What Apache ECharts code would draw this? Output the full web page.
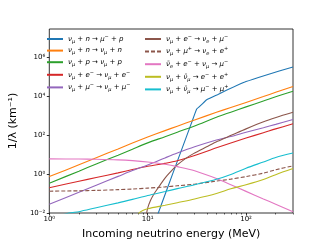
<!DOCTYPE html>
<html><head><meta charset="utf-8">
<script src="https://cdn.jsdelivr.net/npm/echarts@6/dist/echarts.min.js"></script>
<style>html,body{margin:0;padding:0;background:#fff}#c{width:327px;height:245px}</style>
</head><body><div id="c"></div>
<script>
// ---- data (energy in MeV, inverse mean free path in km^-1) ----
const energyGrid = [1, 2, 3, 5, 7, 10, 15, 20, 30, 50, 70, 100, 150, 200, 300];
const nnVals   = [0.74, 3.0, 6.9, 19.5, 39, 79, 170, 288, 600, 1480, 2630, 4790, 9550, 15800, 31600];
const npVals   = [0.34, 1.41, 3.3, 9.3, 19, 40, 83, 141, 295, 832, 1510, 2820, 5620, 9330, 17800];
const neVals   = [0.2, 0.427, 0.66, 1.15, 1.7, 2.51, 3.55, 4.79, 8.9, 22.4, 39.8, 70.8, 132, 209, 380];
const nmuVals  = [0.0282, 0.117, 0.269, 0.76, 1.51, 2.95, 6.76, 12, 25.1, 56.2, 85, 141, 240, 355, 631];
const annVals  = [6.03, 5.89, 5.75, 5.37, 4.9, 4.17, 3.16, 2.4, 1.48, 0.589, 0.282, 0.129, 0.0525, 0.0282, 0.0115];
const mupVals  = [0.132, 0.138, 0.145, 0.158, 0.17, 0.19, 0.219, 0.251, 0.302, 0.437, 0.55, 0.741, 1.12, 1.66, 2.63];

const ccEnergy = [12.6, 15.85, 19.95, 25.1, 28.2, 31.4, 35.5, 39.8, 51.2, 63.1, 100, 158, 300];
const ccVals   = [0.0079, 0.186, 4.37, 100, 490, 2140, 3800, 6600, 12000, 20000, 56200, 120000, 316000];

const imdEnergy = [9.55, 10, 10.7, 11.5, 12.6, 14.3, 15.8, 17.8, 20, 24, 29.2, 39.8, 51.2, 71.6, 100, 158, 224, 300];
const imdVals   = [0.005, 0.0178, 0.0447, 0.089, 0.178, 0.447, 0.85, 1.66, 2.95, 6.03, 11.2, 25.1, 47.9, 100, 209, 525, 955, 1480];

const eeEnergy = [7.59, 8.15, 8.91, 10, 15, 20, 30, 50, 70, 100, 150, 200, 300];
const eeVals   = [0.005, 0.01, 0.0135, 0.0166, 0.0251, 0.0339, 0.0525, 0.1, 0.174, 0.282, 0.525, 0.933, 1.91];

const mmEnergy = [1, 1.585, 2, 3, 5, 7, 10, 15, 20, 30, 50, 70, 100, 150, 200, 300];
const mmVals   = [0.005, 0.01, 0.0117, 0.0186, 0.0331, 0.05, 0.0794, 0.126, 0.178, 0.282, 0.537, 0.955, 2.0, 4.17, 7.08, 12.0];

const seriesNames = [
  'ν_μ + n → μ^- + p',
  'ν_μ + n → ν_μ + n',
  'ν_μ + p → ν_μ + p',
  'ν_μ + e^- → ν_μ + e^-',
  'ν_μ + μ^- → ν_μ + μ^-',
  'ν_μ + e^- → ν_e + μ^-',
  'ν_μ + μ^+ → ν_e + e^+',
  'ν\u0304_e + e^- + ν_μ → μ^-',
  'ν_μ + ν\u0304_μ → e^- + e^+',
  'ν_μ + ν\u0304_μ → μ^- + μ^+'
];
const xTickValues = [1, 10, 100];
const xMinorValues = [2,3,4,5,6,7,8,9,20,30,40,50,60,70,80,90,200,300];
const yTickValues = [0.01, 1, 100, 10000, 1000000];

const colors = ['#1f77b4','#ff7f0e','#2ca02c','#d62728','#9467bd','#8c564b','#8c564b','#e377c2','#bcbd22','#17becf'];
const xs = [ccEnergy, energyGrid, energyGrid, energyGrid, energyGrid, imdEnergy, energyGrid, energyGrid, eeEnergy, mmEnergy];
const ys = [ccVals, nnVals, npVals, neVals, nmuVals, imdVals, mupVals, annVals, eeVals, mmVals];

const FONT = 'DejaVu Sans';
const legRich = {
  n: {fontFamily: FONT, fontSize: 7, lineHeight: 10, color: '#000'},
  i: {fontFamily: FONT, fontSize: 7, fontStyle: 'italic', lineHeight: 10, color: '#000'},
  s: {fontFamily: FONT, fontSize: 5, fontStyle: 'italic', lineHeight: 5, verticalAlign: 'bottom', color: '#000'},
  p: {fontFamily: FONT, fontSize: 5, lineHeight: 5, verticalAlign: 'top', color: '#000'}
};
function toRich(label) {
  let out = '', buf = '';
  const flush = () => { if (buf) { out += '{n|' + buf + '}'; buf = ''; } };
  for (let k = 0; k < label.length; k++) {
    const ch = label[k];
    if (ch === '_') { flush(); out += '{s|' + label[++k] + '}'; }
    else if (ch === '^') { flush(); let c = label[++k]; if (c === '-') c = '\u2212'; out += '{p|' + c + '}'; }
    else if (/[A-Za-z\u03b1-\u03c9]/.test(ch)) {
      flush(); let t = ch; if (label[k + 1] === '\u0304') t += label[++k];
      out += '{i|' + t + '}';
    } else buf += ch;
  }
  flush();
  return out;
}
const SUP = {'0':'\u2070','1':'\u00b9','2':'\u00b2','3':'\u00b3','4':'\u2074','5':'\u2075','6':'\u2076','7':'\u2077','8':'\u2078','9':'\u2079','-':'\u207b'};
function powLabel(v) {
  const e = Math.round(Math.log10(v));
  return '10' + String(e).split('').map(c => SUP[c]).join('');
}

const series = seriesNames.map((name, k) => ({
  type: 'line', name: name,
  data: xs[k].map((x, j) => [x, ys[k][j]]),
  xAxisIndex: 0, yAxisIndex: 0,
  symbol: 'none', showSymbol: false, silent: true, animation: false,
  smooth: k === 0 ? 0.08 : 0.3,
  clip: true,
  lineStyle: {color: colors[k], width: 1.1, type: k === 6 ? [4, 2] : 'solid'},
  itemStyle: {color: colors[k]}
}));

const legendCommon = {
  orient: 'vertical', itemWidth: 16, itemHeight: 10, itemGap: 2.6,
  formatter: n => toRich(n),
  itemStyle: {opacity: 0, borderWidth: 0},
  textStyle: {rich: legRich, fontFamily: FONT, fontSize: 7},
  padding: 0, selectedMode: false
};

const chart = echarts.init(document.getElementById('c'), null, {renderer: 'canvas'});
chart.setOption({
  animation: false,
  backgroundColor: '#fff',
  grid: {left: 40, top: 29, width: 253, height: 189, show: true, borderColor: '#000', borderWidth: 0.8, backgroundColor: 'transparent'},
  legend: [
    Object.assign({left: 46, top: 34, data: seriesNames.slice(0, 5)}, legendCommon),
    Object.assign({left: 144, top: 34, data: seriesNames.slice(5)}, legendCommon)
  ],
  xAxis: [{
    type: 'log', logBase: 10, min: 1, max: 300,
    name: 'Incoming neutrino energy (MeV)', nameLocation: 'middle', nameGap: 16,
    nameTextStyle: {fontFamily: FONT, fontSize: 11, color: '#000'},
    axisLine: {show: false},
    axisTick: {show: true, customValues: xTickValues, length: 2.5, lineStyle: {color: '#000', width: 0.8}},
    axisLabel: {customValues: xTickValues, formatter: powLabel, fontFamily: FONT, fontSize: 7, color: '#000', margin: 3},
    splitLine: {show: false}, minorTick: {show: false}
  }, {
    type: 'log', logBase: 10, min: 1, max: 300, position: 'bottom', gridIndex: 0,
    axisLine: {show: false},
    axisTick: {show: true, customValues: xMinorValues, length: 1.5, lineStyle: {color: '#000', width: 0.6}},
    axisLabel: {show: false},
    splitLine: {show: false}
  }],
  yAxis: [{
    type: 'log', logBase: 10, min: 0.01, max: 28183829,
    name: '1/λ (km\u207b\u00b9)', nameLocation: 'middle', nameGap: 25,
    nameTextStyle: {fontFamily: FONT, fontSize: 11, color: '#000'},
    axisLine: {show: false},
    axisTick: {show: true, customValues: yTickValues, length: 2.5, lineStyle: {color: '#000', width: 0.8}},
    axisLabel: {customValues: yTickValues, formatter: powLabel, fontFamily: FONT, fontSize: 7, color: '#000', margin: 4},
    splitLine: {show: false}
  }],
  series: series
});
</script>
</body></html>
